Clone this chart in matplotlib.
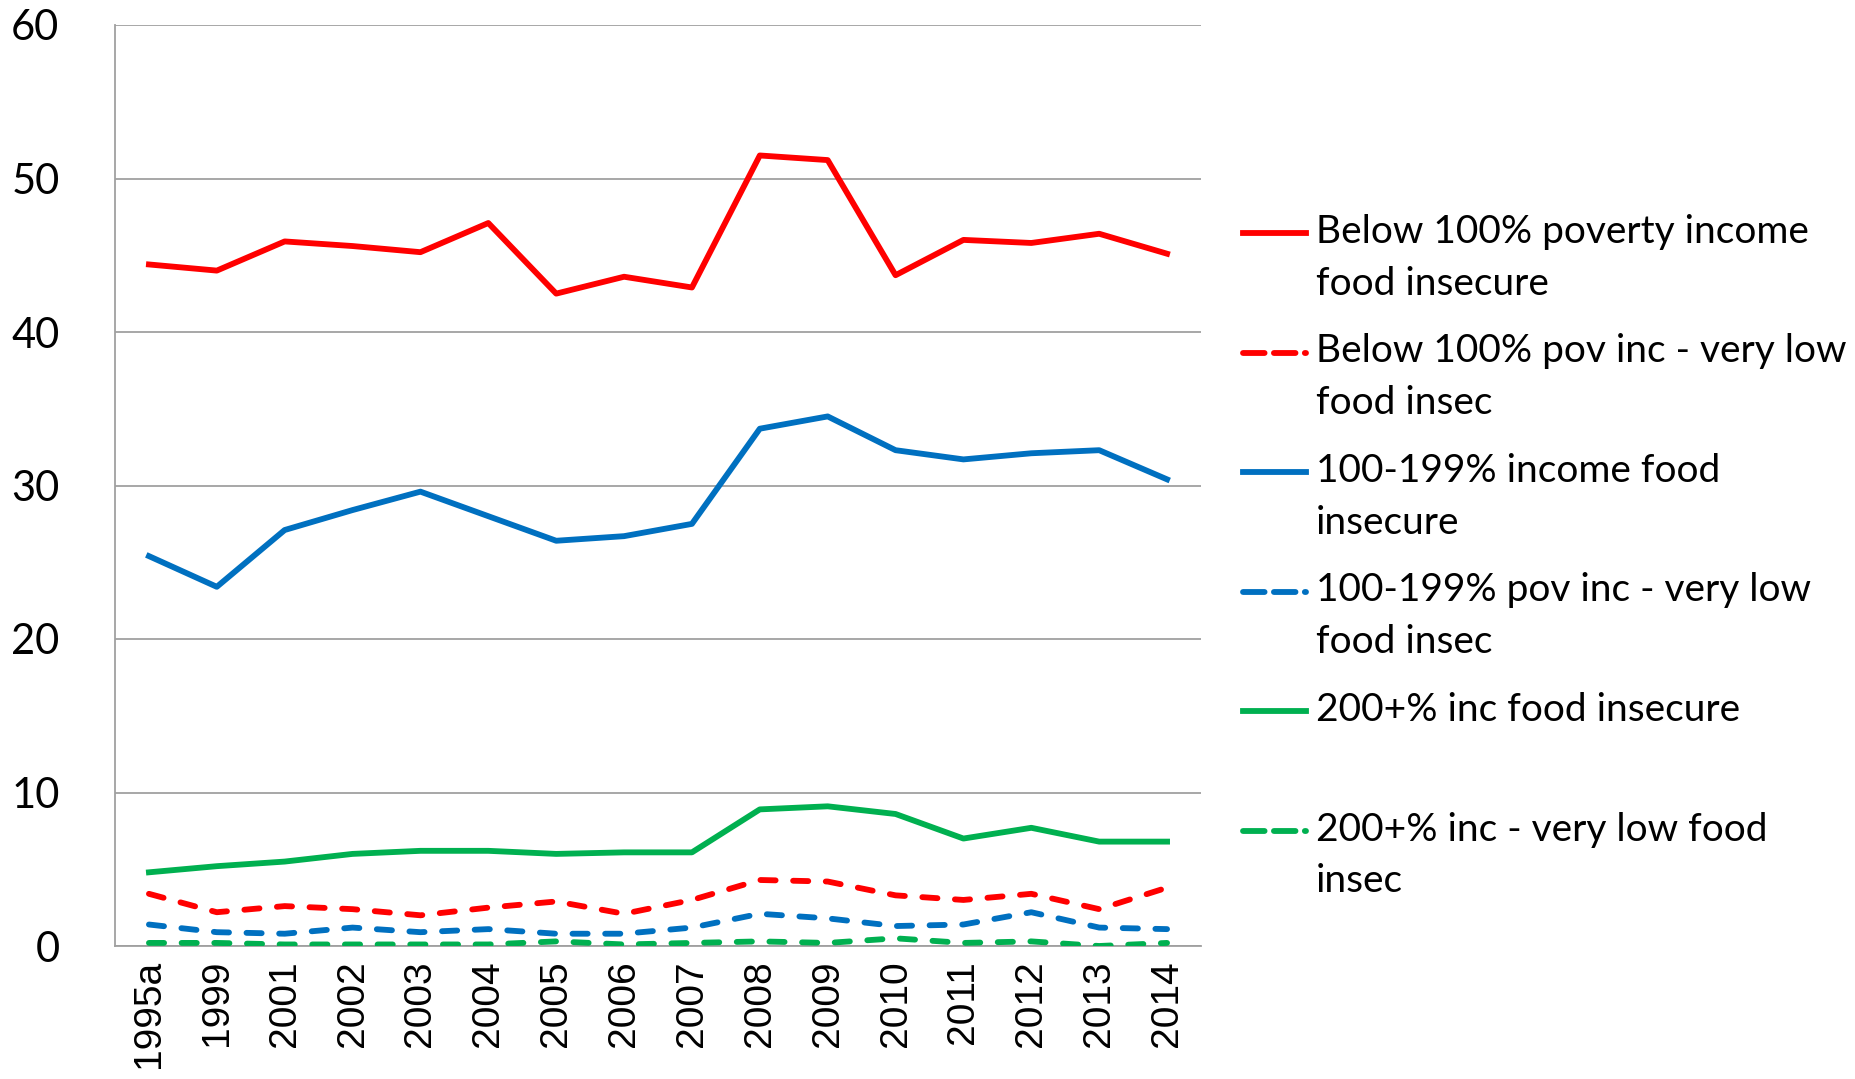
import matplotlib
matplotlib.use('Agg')
import matplotlib.pyplot as plt
from matplotlib.lines import Line2D
import numpy as np

# ---- data ----
years = ['1995a', '1999', '2001', '2002', '2003', '2004', '2005', '2006',
         '2007', '2008', '2009', '2010', '2011', '2012', '2013', '2014']

below100_insecure = [44.4, 44.0, 45.9, 45.6, 45.2, 47.1, 42.5, 43.6,
                     42.9, 51.5, 51.2, 43.7, 46.0, 45.8, 46.4, 45.1]
below100_verylow = [3.4, 2.2, 2.6, 2.4, 2.0, 2.5, 2.9, 2.1,
                    3.0, 4.3, 4.2, 3.3, 3.0, 3.4, 2.4, 3.8]
inc100_199_insecure = [25.4, 23.4, 27.1, 28.4, 29.6, 28.0, 26.4, 26.7,
                       27.5, 33.7, 34.5, 32.3, 31.7, 32.1, 32.3, 30.4]
inc100_199_verylow = [1.4, 0.9, 0.8, 1.2, 0.9, 1.1, 0.8, 0.8,
                      1.2, 2.1, 1.8, 1.3, 1.4, 2.2, 1.2, 1.1]
inc200_insecure = [4.8, 5.2, 5.5, 6.0, 6.2, 6.2, 6.0, 6.1,
                   6.1, 8.9, 9.1, 8.6, 7.0, 7.7, 6.8, 6.8]
inc200_verylow = [0.2, 0.2, 0.1, 0.1, 0.1, 0.1, 0.3, 0.1,
                  0.2, 0.3, 0.2, 0.5, 0.2, 0.3, 0.0, 0.2]

labels = ['Below 100% poverty income\nfood insecure',
          'Below 100% pov inc - very low\nfood insec',
          '100-199% income food\ninsecure',
          '100-199% pov inc - very low\nfood insec',
          '200+% inc food insecure',
          '200+% inc - very low food\ninsec']

RED = '#FF0000'
BLUE = '#0070C0'
GREEN = '#00B050'

series = [(below100_insecure, RED, '-'),
          (below100_verylow, RED, '--'),
          (inc100_199_insecure, BLUE, '-'),
          (inc100_199_verylow, BLUE, '--'),
          (inc200_insecure, GREEN, '-'),
          (inc200_verylow, GREEN, '--')]

W, H = 1855, 1079
fig = plt.figure(figsize=(W / 100, H / 100), dpi=100)
ax = fig.add_axes([115 / W, 1 - 946 / H, (1201 - 115) / W, (946 - 25) / H])

x = np.arange(len(years))
lw = 4.2
dash = (0, (2.6, 3.0))
handles = []
for vals, col, ls in series:
    if ls == '--':
        ln, = ax.plot(x, vals, color=col, lw=lw, linestyle=dash,
                      dash_capstyle='round', solid_joinstyle='round', zorder=3)
    else:
        ln, = ax.plot(x, vals, color=col, lw=lw, solid_joinstyle='round', zorder=3)
    handles.append(ln)

ax.set_xlim(-0.5, len(years) - 0.5)
ax.set_ylim(0, 60)
ax.set_yticks([0, 10, 20, 30, 40, 50, 60])
ax.set_xticks(x)
ax.set_xticklabels(years, rotation=90, fontsize=28, family='Liberation Sans')
for t in ax.get_yticklabels():
    t.set_fontsize(30)
    t.set_family('Lato')
ax.tick_params(axis='both', length=0)
ax.tick_params(axis='y', pad=40)
ax.tick_params(axis='x', pad=10)

ax.grid(axis='y', color='#A0A0A0', lw=1.3)
ax.set_axisbelow(True)
for s in ['top', 'right']:
    ax.spines[s].set_visible(False)
for s in ['left', 'bottom']:
    ax.spines[s].set_color('#A0A0A0')
    ax.spines[s].set_linewidth(1.3)

# manual legend: handle aligned with first line of each label
y0 = 1 - 233 / H
step = 119.5 / H
for i, (h, lab) in enumerate(zip(handles, labels)):
    yy = y0 - i * step
    fig.add_artist(Line2D([1243 / W, 1306 / W], [yy, yy], transform=fig.transFigure,
                          color=h.get_color(), lw=lw, linestyle=h.get_linestyle(),
                          dash_capstyle='round'))
    fig.text(1316 / W, yy + 19 / H, lab, fontsize=28, family='Lato', va='top',
             ha='left', linespacing=1.55)

fig.savefig('out.png', dpi=100)
